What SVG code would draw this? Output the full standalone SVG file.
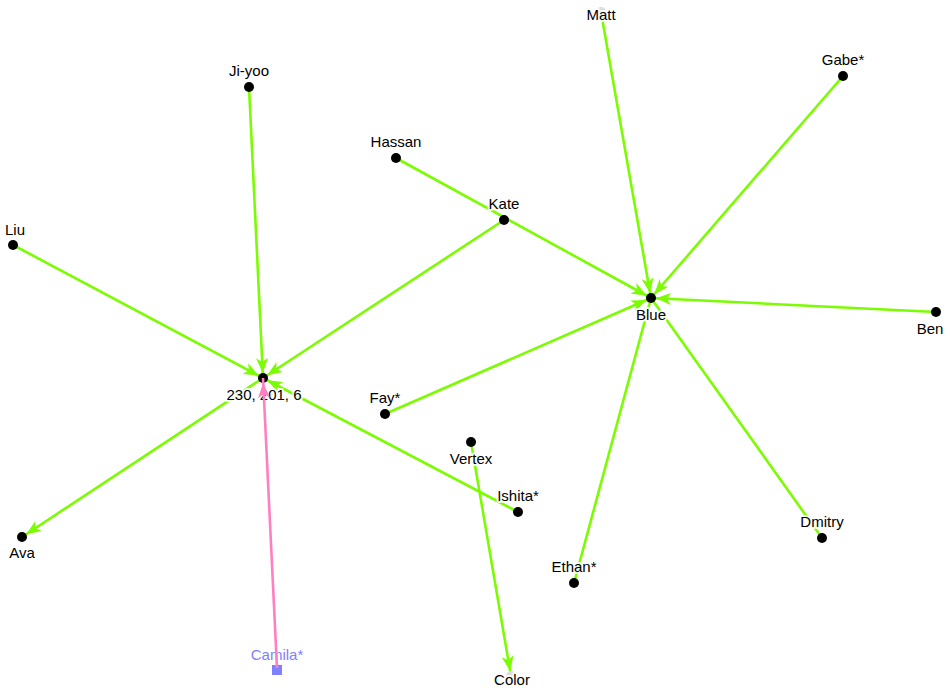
<svg xmlns="http://www.w3.org/2000/svg" width="950" height="694" viewBox="0 0 950 694">
<style>
.e{stroke:#7cfc00;stroke-width:2.6;fill:none}
.ea{stroke:#7cfc00;stroke-width:2.6;fill:none;marker-end:url(#ag)}
.ep{stroke:#ff80c0;stroke-width:2.6;fill:none;marker-end:url(#ap)}
.n{fill:#000}
.l{font-family:"Liberation Sans",Arial,sans-serif;font-size:15px;fill:#000;text-anchor:middle;paint-order:stroke;stroke:#fff;stroke-opacity:0.85;stroke-width:4px;stroke-linejoin:round}
</style>
<defs>
<marker id="ag" markerUnits="userSpaceOnUse" markerWidth="24" markerHeight="14" viewBox="0 0 24 14" refX="20" refY="6" orient="auto">
<path d="M0,0 L15,6 L0,12 L4,6 z" fill="#7cfc00"/>
</marker>
<marker id="ap" markerUnits="userSpaceOnUse" markerWidth="24" markerHeight="14" viewBox="0 0 24 14" refX="20" refY="6" orient="auto">
<path d="M0,0 L15,6 L0,12 L4,6 z" fill="#ff80c0"/>
</marker>
</defs>
<rect width="950" height="694" fill="#fff"/>
<g id="edges">
<line class="ea" x1="249" y1="87" x2="263" y2="378"/>
<line class="ea" x1="13" y1="245" x2="263" y2="378"/>
<line class="ea" x1="504" y1="220" x2="263" y2="378"/>
<line class="ea" x1="518" y1="512" x2="263" y2="378"/>
<line class="ea" x1="263" y1="378" x2="22" y2="537"/>
<line class="ea" x1="601" y1="12" x2="651" y2="298"/>
<line class="ea" x1="843" y1="76" x2="651" y2="298"/>
<line class="ea" x1="396" y1="158" x2="651" y2="298"/>
<line class="ea" x1="936" y1="312" x2="651" y2="298"/>
<line class="ea" x1="385" y1="414" x2="651" y2="298"/>
<line class="e" x1="651" y1="298" x2="574" y2="583"/>
<line class="e" x1="651" y1="298" x2="822" y2="538"/>
<line class="ea" x1="471" y1="442" x2="511" y2="676"/>
</g>
<g id="node-matt"><circle cx="601" cy="12" r="5" fill="#ddd"/><text class="l" x="601" y="20">Matt</text></g>
<g id="node-color"><circle cx="511" cy="676" r="5" fill="#ddd"/><text class="l" x="512" y="685">Color</text></g>
<g id="node-jiyoo"><circle class="n" cx="249" cy="87" r="5"/><text class="l" x="249" y="76">Ji-yoo</text></g>
<g id="node-hassan"><circle class="n" cx="396" cy="158" r="5"/><text class="l" x="396" y="147">Hassan</text></g>
<g id="node-kate"><circle class="n" cx="504" cy="220" r="5"/><text class="l" x="504" y="209">Kate</text></g>
<g id="node-liu"><circle class="n" cx="13" cy="245" r="5"/><text class="l" x="15" y="235">Liu</text></g>
<g id="node-gabe"><circle class="n" cx="843" cy="76" r="5"/><text class="l" x="843" y="65">Gabe*</text></g>
<g id="node-blue"><circle class="n" cx="651" cy="298" r="5"/><text class="l" x="651" y="320">Blue</text></g>
<g id="node-ben"><circle class="n" cx="936" cy="312" r="5"/><text class="l" x="930" y="334">Ben</text></g>
<g id="node-center"><circle class="n" cx="263" cy="378" r="5"/><text class="l" x="264" y="400">230, 201, 6</text></g>
<g id="node-fay"><circle class="n" cx="385" cy="414" r="5"/><text class="l" x="385" y="403">Fay*</text></g>
<g id="node-vertex"><circle class="n" cx="471" cy="442" r="5"/><text class="l" x="471" y="464">Vertex</text></g>
<g id="node-ishita"><circle class="n" cx="518" cy="512" r="5"/><text class="l" x="518" y="501">Ishita*</text></g>
<g id="node-ava"><circle class="n" cx="22" cy="537" r="5"/><text class="l" x="22" y="558">Ava</text></g>
<g id="node-dmitry"><circle class="n" cx="822" cy="538" r="5"/><text class="l" x="822" y="527">Dmitry</text></g>
<g id="node-ethan"><circle class="n" cx="574" cy="583" r="5"/><text class="l" x="574" y="572">Ethan*</text></g>
<g id="node-camila"><text class="l" x="277" y="660" style="fill:#8080ff">Camila*</text><rect x="272" y="665" width="10" height="10" fill="#8080ff"/></g>
<g id="edge-highlight"><line class="ep" x1="277" y1="668" x2="263" y2="378"/></g>
</svg>
